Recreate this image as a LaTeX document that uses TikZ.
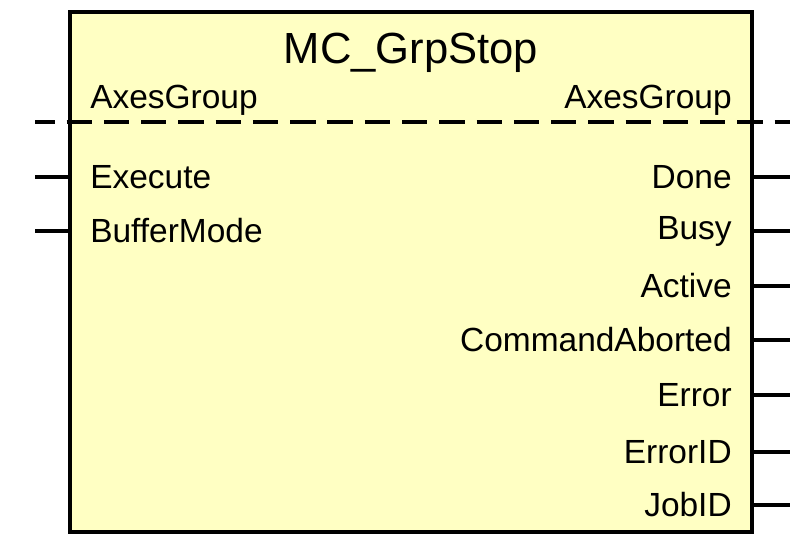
\documentclass[tikz,border=0pt]{standalone}
\usepackage{fontspec}
\setmainfont{Liberation Sans}
\definecolor{fbfill}{RGB}{255,255,195}
\begin{document}
\begin{tikzpicture}[x=0.025cm,y=0.025cm,
    pin/.style={line width=2.4pt},
    inlabel/.style={anchor=west,font=\fontsize{23.8}{26}\selectfont,inner sep=0pt},
    outlabel/.style={anchor=east,font=\fontsize{23.8}{26}\selectfont,inner sep=0pt}]
      \useasboundingbox (0, 0) rectangle (805, 558);
      \draw[line width=2.4pt, fill=fbfill] (70, 26) rectangle (752, 546);
      \node (title) at (411, 505) {\fontsize{31}{34}\selectfont MC\_GrpStop};
      \coordinate (dl) at (35, 436);
      \coordinate (dr) at (790, 436);
      \draw[pin, dash pattern=on 18pt off 8.5pt, dash phase=4pt] (dl) -- (dr);
      \node[inlabel] (axin) at (90, 458) {AxesGroup};
      \node[outlabel] (axout) at (732, 458) {AxesGroup};
      % inputs
      \foreach \name/\y in {Execute/381, BufferMode/327} {
        \node[inlabel] (in\name) at (90, \y) {\name};
        \coordinate (a\name) at (35, \y);
        \coordinate (b\name) at (70, \y);
        \draw[pin] (a\name) -- (b\name);
      }
      % outputs
      \foreach \name/\y in {Done/381, Busy/327, Active/272, CommandAborted/218,
                            Error/163, ErrorID/106, JobID/53} {
        \node[outlabel] (out\name) at (732, \y) {\name};
        \coordinate (c\name) at (752, \y);
        \coordinate (d\name) at (790, \y);
        \draw[pin] (c\name) -- (d\name);
      }
\end{tikzpicture}
\end{document}
